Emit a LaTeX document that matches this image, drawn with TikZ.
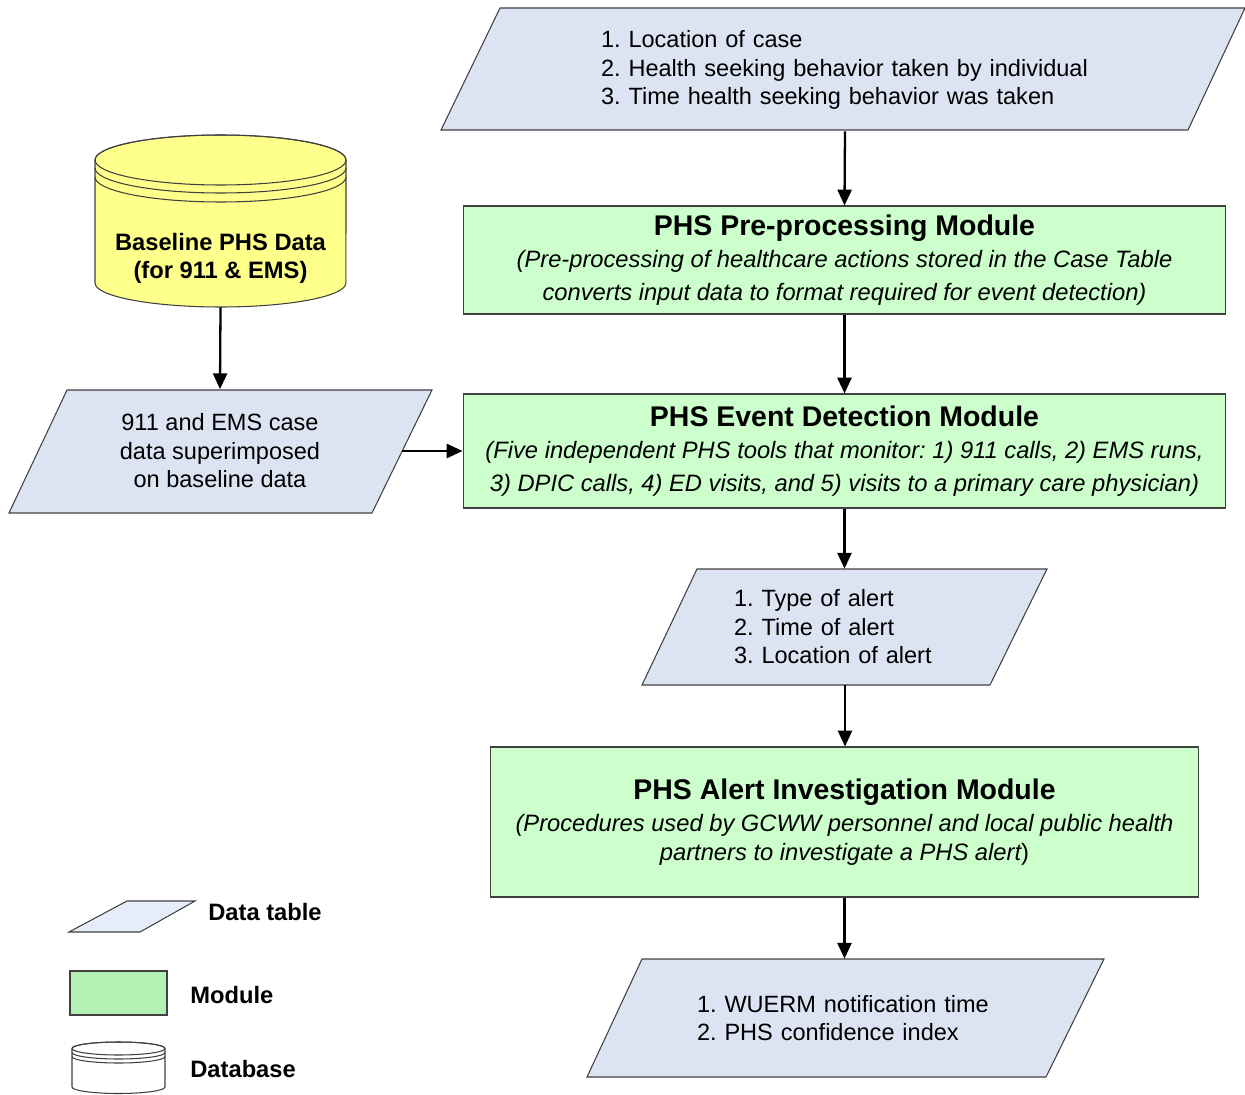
\documentclass[tikz,border=0pt]{standalone}
\usepackage{fontspec}
\setmainfont{Liberation Sans}
\usetikzlibrary{arrows.meta}
\frenchspacing

\definecolor{tablefill}{RGB}{220,227,242}
\definecolor{keytable}{RGB}{230,236,248}
\definecolor{modfill}{RGB}{204,255,204}
\definecolor{keymod}{RGB}{178,240,180}
\definecolor{dbfill}{RGB}{255,255,140}
\newcommand{\modtitle}[1]{{\upshape\bfseries\fontsize{16.2}{18}\selectfont #1}}

\begin{document}
\begin{tikzpicture}[x=0.02cm,y=-0.02cm,
  table/.style={draw=black!75,fill=tablefill,line width=0.6pt},
  list/.style={inner sep=0pt,align=left,font=\fontsize{13.4}{16.2}\selectfont},
  module/.style={draw=black!75,fill=modfill,line width=0.6pt,align=center,
    font=\fontsize{13.5}{18.5}\selectfont\itshape},
  db/.style={draw=black!75,line width=0.6pt},
  keytext/.style={anchor=west,inner sep=0pt,font=\fontsize{13.5}{15}\selectfont\bfseries},
  arr/.style={line width=1.3pt,-{Triangle[length=9pt,width=8pt]}}]
\useasboundingbox (0,0) rectangle (1245,1095);

% data tables
\draw[table] (500,8) -- (1245,8) -- (1188,130) -- (441,130) -- cycle;
\node[list,text width=9.76cm,minimum height=2.44cm] (case) at (845,70)
  {1. Location of case\\2. Health seeking behavior taken by individual\\3. Time health seeking behavior was taken};

\draw[table] (67,390) -- (432,390) -- (372,513) -- (9,513) -- cycle;
\node[list,align=center,minimum width=7.28cm,minimum height=2.46cm] (feed) at (220,451)
  {911 and EMS case\\data superimposed\\on baseline data};

\draw[table] (697,569) -- (1047,569) -- (990,685) -- (642,685) -- cycle;
\node[list,text width=4.44cm,minimum height=2.32cm] (alert) at (845,627)
  {1. Type of alert\\2. Time of alert\\3. Location of alert};

\draw[table] (642,959) -- (1104,959) -- (1046,1077) -- (587,1077) -- cycle;
\node[list,text width=6.1cm,minimum height=2.36cm] (notify) at (849.5,1018)
  {1. WUERM notification time\\2. PHS confidence index};

% modules
\node[module,minimum width=15.26cm,minimum height=2.16cm] (pre) at (844.5,260)
  {\modtitle{PHS Pre-processing Module}\\
   (Pre-processing of healthcare actions stored in the Case Table\\
   converts input data to format required for event detection)};
\node[module,minimum width=15.26cm,minimum height=2.28cm] (event) at (844.5,451)
  {\modtitle{PHS Event Detection Module}\\
   (Five independent PHS tools that monitor: 1) 911 calls, 2) EMS runs,\\
   3) DPIC calls, 4) ED visits, and 5) visits to a primary care physician)};
\node[module,minimum width=14.18cm,minimum height=3cm] (invest) at (844.5,822)
  {\modtitle{PHS Alert Investigation Module}\\
   (Procedures used by GCWW personnel and local public health\\[-2pt]
   partners to investigate a PHS alert\upshape)};

% baseline database
\filldraw[db,fill=dbfill] (95,160) -- (95,283)
  arc[start angle=180,end angle=360,x radius=2.51cm,y radius=0.48cm] -- (346,160)
  arc[start angle=0,end angle=180,x radius=2.51cm,y radius=0.5cm] -- cycle;
\draw[db] (220.5,160) ellipse[x radius=2.51cm,y radius=0.5cm];
\draw[db] (95,168) arc[start angle=180,end angle=360,x radius=2.51cm,y radius=0.5cm];
\draw[db] (95,177) arc[start angle=180,end angle=360,x radius=2.51cm,y radius=0.5cm];
\node[align=center,inner sep=0pt,minimum width=5.02cm,minimum height=1.96cm,
  font=\fontsize{13.5}{16}\selectfont\bfseries] (base) at (220.5,258)
  {Baseline PHS Data\\(for 911 \& EMS)};

% flow
\draw[arr] (case.south) -- (pre.north);
\draw[arr] (pre) -- (event);
\draw[arr] (base.south) -- (feed.north);
\draw[arr] (feed.east) -- (event.west);
\draw[arr] (event.south) -- (event.south |- alert.north);
\draw[arr] (alert.south) -- (alert.south |- invest.north);
\draw[arr] (invest.south) -- (invest.south |- notify.north);

% key
\draw[table,fill=keytable] (127,901) -- (195,901) -- (140,932) -- (69,932) -- cycle;
\node[keytext] (keytab) at (208,912) {Data table};
\node[draw=black!75,fill=keymod,line width=0.6pt,minimum width=1.94cm,minimum height=0.88cm] (keymodbox) at (118.5,993) {};
\node[keytext] (keymodtext) at (190,995) {Module};
\filldraw[db,fill=white] (72,1048.5) -- (72,1087)
  arc[start angle=180,end angle=360,x radius=0.93cm,y radius=0.13cm] -- (165,1048.5)
  arc[start angle=0,end angle=180,x radius=0.93cm,y radius=0.13cm] -- cycle;
\draw[db] (118.5,1048.5) ellipse[x radius=0.93cm,y radius=0.13cm];
\draw[db] (72,1052.5) arc[start angle=180,end angle=360,x radius=0.93cm,y radius=0.13cm];
\draw[db] (72,1056.5) arc[start angle=180,end angle=360,x radius=0.93cm,y radius=0.13cm];
\node[keytext] (keydb) at (190,1069) {Database};
\end{tikzpicture}
\end{document}
